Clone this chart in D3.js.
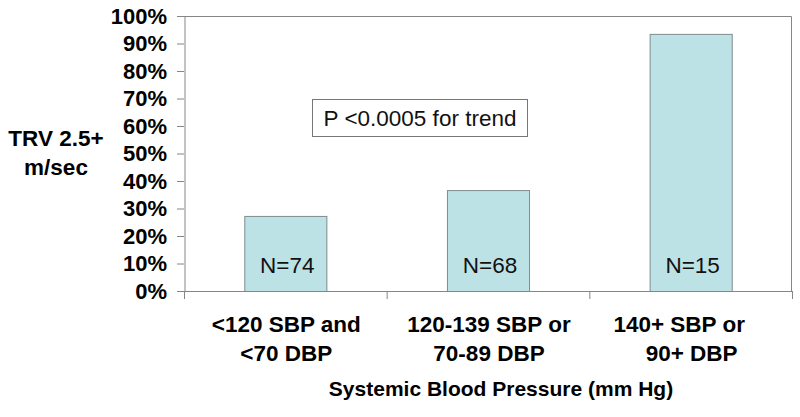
<!DOCTYPE html>
<html>
<head>
  <meta charset="utf-8">
  <script src="https://d3js.org/d3.v7.min.js"></script>
  <style>
    body { margin: 0; background: #fff; }
    svg { font-family: "Liberation Sans", Arial, Helvetica, sans-serif; }
  </style>
</head>
<body>
  <div id="chart"></div>
  <script>

// data
const categories = ["low", "mid", "high"];
const labelLines = [
  ["<120 SBP and", "<70 DBP"],
  ["120-139 SBP or", "70-89 DBP"],
  ["140+ SBP or\u00a0\u00a0\u00a0\u00a0", "90+ DBP"]
];
const values = [0.273, 0.367, 0.935];
const counts = ["N=74", "N=68", "N=15"];
const yTicks = [0, 0.1, 0.2, 0.3, 0.4, 0.5, 0.6, 0.7, 0.8, 0.9, 1.0];

const margin = { top: 16, right: 8, bottom: 126, left: 184 };
const width = 800 - margin.left - margin.right;
const height = 417 - margin.top - margin.bottom;
const axisGrey = "#868686";

const svg = d3.select("#chart")
  .append("svg")
  .attr("width", 800)
  .attr("height", 417);

const g = svg.append("g")
  .attr("transform", `translate(${margin.left}, ${margin.top})`);

const x = d3.scaleBand()
  .domain(categories)
  .range([0, width])
  .paddingInner(0.595)
  .paddingOuter(0.2975);

// used only for the tick marks at the category boundaries
const xEdges = d3.scaleLinear()
  .domain([0, categories.length])
  .range([0, width]);

const y = d3.scaleLinear()
  .domain([0, 1])
  .range([height, 0]);

// plot frame (top and right)
g.append("path")
  .attr("d", `M0,0.5H${width - 0.5}V${height}`)
  .attr("fill", "none")
  .attr("stroke", axisGrey);

// bars
g.selectAll(".bar")
  .data(values)
  .enter()
  .append("rect")
  .attr("class", "bar")
  .attr("x", (d, i) => x(categories[i]) + 0.5)
  .attr("y", d => y(d) + 0.5)
  .attr("width", x.bandwidth())
  .attr("height", d => height - y(d))
  .attr("fill", "#bde2e6")
  .attr("stroke", "#7f8c8e")
  .attr("stroke-width", 1);

// N= labels inside the bars
g.selectAll(".nlab")
  .data(counts)
  .enter()
  .append("text")
  .attr("class", "nlab")
  .attr("x", (d, i) => x(categories[i]) + x.bandwidth() / 2 + 2)
  .attr("y", height - 18)
  .attr("text-anchor", "middle")
  .attr("font-size", "22.5px")
  .attr("fill", "#111")
  .text(d => d);

// y axis
const yAxis = g.append("g")
  .call(d3.axisLeft(y)
    .tickValues(yTicks)
    .tickFormat(d3.format(".0%"))
    .tickSize(7)
    .tickPadding(10)
    .tickSizeOuter(0));
yAxis.select(".domain").attr("stroke", axisGrey).attr("transform", "translate(0.5,0)");
yAxis.selectAll(".tick line").attr("stroke", axisGrey);
yAxis.selectAll(".tick text")
  .attr("font-size", "22px")
  .attr("font-weight", "bold")
  .attr("fill", "#000")
  .attr("font-family", "Liberation Sans, Arial, sans-serif");

// x axis with ticks at category boundaries
const xAxis = g.append("g")
  .attr("transform", `translate(0, ${height})`)
  .call(d3.axisBottom(xEdges)
    .tickValues(d3.range(categories.length + 1))
    .tickFormat("")
    .tickSize(8)
    .tickSizeOuter(0));
xAxis.select(".domain").attr("stroke", axisGrey);
xAxis.selectAll(".tick line").attr("stroke", axisGrey);

// category labels (two lines each)
const catLab = g.selectAll(".catlab")
  .data(labelLines)
  .enter()
  .append("text")
  .attr("class", "catlab")
  .attr("text-anchor", "middle")
  .attr("font-size", "22.5px")
  .attr("font-weight", "bold")
  .attr("fill", "#000");

catLab.selectAll("tspan")
  .data((d, i) => d.map(t => ({ t, i })))
  .enter()
  .append("tspan")
  .attr("x", d => x(categories[d.i]) + x.bandwidth() / 2 + 1)
  .attr("y", (d, j) => height + 41 + j * 29)
  .text(d => d.t);

// x axis title
g.append("text")
  .attr("x", width / 2 + 13)
  .attr("y", height + 105)
  .attr("text-anchor", "middle")
  .attr("font-size", "21px")
  .attr("font-weight", "bold")
  .text("Systemic Blood Pressure (mm Hg)");

// y axis title
const yTitle = svg.append("text")
  .attr("text-anchor", "middle")
  .attr("font-size", "22.5px")
  .attr("font-weight", "bold");
yTitle.append("tspan").attr("x", 56).attr("y", 146).text("TRV 2.5+");
yTitle.append("tspan").attr("x", 56).attr("y", 175).text("m/sec");

// annotation box
const note = svg.append("g").attr("transform", "translate(312, 99)");
note.append("rect")
  .attr("x", 0.5)
  .attr("y", 0.5)
  .attr("width", 215)
  .attr("height", 37)
  .attr("fill", "#fff")
  .attr("stroke", "#777");
note.append("text")
  .attr("x", 108)
  .attr("y", 27)
  .attr("text-anchor", "middle")
  .attr("font-size", "22.5px")
  .attr("fill", "#111")
  .text("P <0.0005 for trend");

  </script>
</body>
</html>
